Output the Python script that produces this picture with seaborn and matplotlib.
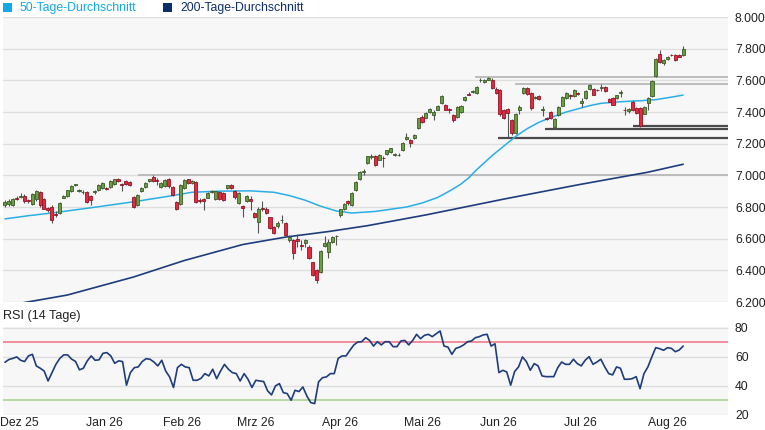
import numpy as np
import matplotlib
matplotlib.use("Agg")
import matplotlib.pyplot as plt
from matplotlib.patches import Rectangle
import seaborn as sns

# ---------------- data ----------------
opens = [6815, 6820, 6812, 6858, 6862, 6872, 6842, 6822, 6848, 6892,
         6850, 6792, 6800, 6758, 6760, 6860, 6870, 6900, 6940, 6902,
         6892, 6895, 6868, 6892, 6905, 6920, 6922, 6925, 6945, 6976,
         6945, 6965, 6960, 6865, 6810, 6900, 6925, 6965, 6992, 6968,
         6925, 6930, 6975, 6925, 6830, 6820, 6920, 6975, 6950, 6960,
         6845, 6850, 6860, 6895, 6850, 6895, 6890, 6920, 6940, 6900,
         6825, 6805, 6835, 6852, 6760, 6705, 6795, 6790, 6735, 6675,
         6680, 6718, 6700, 6590, 6590, 6595, 6560, 6575, 6550, 6450,
         6400, 6390, 6555, 6515, 6580, 6615, 6750, 6785, 6835, 6810,
         6905, 6975, 7020, 7075, 7115, 7125, 7100, 7110, 7135, 7145,
         7130, 7128, 7160, 7232, 7225, 7235, 7300, 7370, 7365, 7400,
         7380, 7415, 7455, 7445, 7418, 7380, 7370, 7400, 7475, 7512,
         7525, 7520, 7600, 7590, 7605, 7602, 7545, 7540, 7410, 7420,
         7350, 7265, 7410, 7520, 7550, 7520, 7490, 7500, 7410, 7365,
         7400, 7305, 7380, 7440, 7490, 7505, 7500, 7518, 7460, 7490,
         7545, 7545, 7540, 7550, 7558, 7482, 7488, 7486, 7520, 7415,
         7405, 7465, 7425, 7425, 7390, 7455, 7500, 7625, 7765, 7712,
         7735, 7762, 7760, 7760, 7760]
highs = [6845, 6850, 6860, 6868, 6890, 6880, 6852, 6888, 6908, 6898,
         6858, 6800, 6810, 6775, 6830, 6878, 6910, 6940, 6945, 6915,
         6905, 6900, 6875, 6905, 6945, 6955, 6928, 6968, 6980, 6982,
         6950, 6970, 6965, 6870, 6880, 6925, 6955, 6978, 7005, 6985,
         6955, 6975, 6985, 6930, 6840, 6945, 6975, 6980, 6972, 6965,
         6860, 6855, 6893, 6905, 6902, 6900, 6895, 6942, 6945, 6905,
         6895, 6812, 6875, 6870, 6770, 6800, 6840, 6800, 6740, 6680,
         6710, 6750, 6705, 6625, 6595, 6630, 6590, 6600, 6560, 6455,
         6410, 6530, 6615, 6600, 6618, 6625, 6790, 6825, 6845, 6895,
         6965, 7025, 7040, 7125, 7135, 7130, 7135, 7120, 7162, 7172,
         7140, 7138, 7210, 7268, 7230, 7258, 7365, 7378, 7398, 7425,
         7415, 7445, 7505, 7450, 7425, 7385, 7435, 7445, 7500, 7525,
         7540, 7565, 7615, 7610, 7620, 7612, 7555, 7545, 7420, 7428,
         7355, 7395, 7445, 7560, 7555, 7525, 7500, 7505, 7440, 7370,
         7405, 7360, 7435, 7500, 7525, 7515, 7545, 7525, 7490, 7540,
         7575, 7550, 7545, 7580, 7565, 7488, 7495, 7510, 7540, 7430,
         7425, 7475, 7430, 7430, 7435, 7495, 7605, 7740, 7790, 7735,
         7755, 7768, 7768, 7765, 7815]
lows = [6800, 6805, 6808, 6845, 6855, 6825, 6828, 6815, 6840, 6800,
        6785, 6770, 6700, 6740, 6755, 6855, 6865, 6895, 6935, 6895,
        6882, 6825, 6810, 6885, 6900, 6915, 6905, 6920, 6940, 6958,
        6900, 6940, 6935, 6795, 6805, 6895, 6920, 6960, 6960, 6940,
        6920, 6925, 6920, 6870, 6780, 6815, 6915, 6945, 6945, 6825,
        6825, 6780, 6855, 6890, 6845, 6845, 6835, 6915, 6915, 6850,
        6820, 6735, 6830, 6780, 6730, 6635, 6775, 6755, 6660, 6630,
        6670, 6700, 6620, 6580, 6470, 6550, 6530, 6545, 6470, 6365,
        6320, 6385, 6550, 6480, 6575, 6560, 6740, 6780, 6810, 6805,
        6900, 6970, 7005, 7070, 7105, 7060, 7095, 7050, 7130, 7140,
        7125, 7125, 7155, 7225, 7180, 7230, 7295, 7330, 7360, 7395,
        7350, 7410, 7450, 7410, 7395, 7340, 7365, 7395, 7470, 7505,
        7520, 7515, 7590, 7585, 7600, 7545, 7515, 7375, 7355, 7240,
        7255, 7258, 7385, 7515, 7505, 7415, 7480, 7475, 7375, 7350,
        7355, 7290, 7375, 7435, 7485, 7480, 7495, 7505, 7430, 7485,
        7540, 7505, 7530, 7530, 7525, 7462, 7442, 7480, 7495, 7380,
        7395, 7405, 7390, 7305, 7385, 7410, 7495, 7620, 7710, 7700,
        7730, 7752, 7725, 7745, 7755]
closes = [6830, 6835, 6850, 6852, 6868, 6838, 6836, 6880, 6900, 6810,
          6790, 6780, 6720, 6750, 6825, 6872, 6905, 6935, 6942, 6908,
          6895, 6830, 6842, 6900, 6940, 6950, 6915, 6962, 6975, 6962,
          6940, 6945, 6942, 6802, 6875, 6920, 6950, 6975, 6965, 6962,
          6950, 6970, 6930, 6878, 6788, 6940, 6970, 6950, 6965, 6830,
          6840, 6838, 6890, 6900, 6898, 6850, 6842, 6938, 6920, 6865,
          6890, 6795, 6870, 6838, 6738, 6790, 6788, 6762, 6668, 6638,
          6702, 6718, 6625, 6610, 6510, 6585, 6555, 6590, 6475, 6370,
          6340, 6525, 6575, 6580, 6610, 6620, 6785, 6820, 6825, 6890,
          6960, 7020, 7025, 7120, 7125, 7065, 7130, 7108, 7160, 7170,
          7132, 7130, 7205, 7242, 7205, 7255, 7360, 7335, 7395, 7420,
          7400, 7440, 7500, 7415, 7412, 7350, 7430, 7435, 7495, 7510,
          7535, 7560, 7600, 7605, 7612, 7552, 7520, 7385, 7362, 7395,
          7265, 7390, 7430, 7550, 7515, 7425, 7495, 7480, 7420, 7355,
          7360, 7355, 7430, 7495, 7520, 7498, 7540, 7512, 7470, 7535,
          7570, 7510, 7536, 7555, 7530, 7466, 7446, 7505, 7525, 7410,
          7420, 7410, 7395, 7310, 7430, 7490, 7595, 7735, 7715, 7728,
          7750, 7758, 7730, 7750, 7800]

# moving averages read at selected trading-day indices
ma50_day = [0, 6, 12, 22, 33, 42, 48, 55, 63, 69, 73, 77, 81, 85, 89, 95,
            103, 107, 111, 114, 117, 119, 121, 123, 125, 127, 129, 131, 134,
            137, 140, 144, 147, 150, 153, 158, 163, 167, 171, 174]
ma50 = [6725, 6745, 6762, 6795, 6833, 6868, 6893, 6900, 6902, 6893, 6872,
        6843, 6805, 6775, 6762, 6772, 6800, 6825, 6860, 6900, 6945, 6985,
        7035, 7080, 7125, 7165, 7205, 7245, 7295, 7335, 7365, 7400, 7420,
        7440, 7455, 7465, 7471, 7478, 7494, 7507]
ma200_day = [0, 16, 33, 46, 61, 72, 83, 93, 108, 128, 147, 165, 174]
ma200 = [6175, 6244, 6358, 6462, 6563, 6610, 6645, 6682, 6750, 6850, 6940,
         7020, 7070]

rsi = [56.3, 58.2, 59, 60, 57.7, 56.8, 60.7, 61.8, 53.8, 52.2,
       50.3, 43.4, 49.2, 54.9, 59, 61.4, 61.4, 58.5, 56.9, 51.1,
       52.2, 57.3, 60.7, 57.7, 58, 62.5, 63, 60.7, 55.6, 57.3,
       56.8, 40.5, 49.2, 52.6, 53.1, 56.8, 58.8, 58.4, 56.5, 53.8,
       57.7, 50.3, 46.2, 38.9, 52.6, 54.9, 53.1, 52.6, 43.9, 43.9,
       45.2, 48.5, 46.9, 51.5, 45, 50.3, 54.9, 51.5, 49.2, 48.5,
       43.4, 48.5, 44.6, 38.9, 43.9, 43.4, 43, 36.6, 33.8, 40,
       41.6, 35.4, 34.7, 30.1, 37, 36.1, 39.3, 33.1, 28.5, 27.8,
       42.8, 45.7, 46.2, 48.5, 48.5, 59, 60.7, 60.7, 64.6, 68.3, 70.3,
       70.5, 73.3, 71.4, 67.5, 70.5, 68.3, 70.5, 70.5, 67.1, 67.1,
       71, 71.4, 68.3, 71.4, 75.6, 72.6, 74.9, 75.6, 74, 76,
       77.9, 67.5, 66.8, 61.8, 65.9, 66.8, 68.3, 70.5, 71, 73.3,
       74, 75.2, 75.6, 67.5, 69.1, 49.2, 50.8, 49.6, 40.5, 49.9,
       53.1, 60, 56.8, 50.8, 55.4, 53.8, 46.9, 46.4, 46.4, 46.4, 52.6,
       56.5, 54.9, 54.9, 58.4, 55.4, 53.8, 57.7, 60.2, 54.9, 56.5,
       58.4, 53.1, 48.5, 47.6, 53.1, 52.2, 44.6, 44.6, 45, 46.4,
       38.1, 48.5, 53.1, 60, 66.4, 65.7, 64.6, 66.4, 65.9, 63.6, 64.8, 67.5]

# horizontal support / resistance levels and the day they start
light_levels = [7620, 7575, 7000]
light_start = [120.6, 130.9, 34.1]
dark_levels = [7238, 7295, 7313]
dark_start = [126.5, 138.6, 161.2]

month_day = [3.7, 25.4, 45.3, 64.2, 86.0, 107.0, 126.7, 147.5, 169.9]
month_labels = ["Dez 25", "Jan 26", "Feb 26", "Mrz 26", "Apr 26", "Mai 26",
                "Jun 26", "Jul 26", "Aug 26"]
price_ticks = [6200, 6400, 6600, 6800, 7000, 7200, 7400, 7600, 7800, 8000]
rsi_ticks = [20, 40, 60, 80]

# ---------------- style ----------------
sns.set_theme(style="white")
plt.rcParams["font.family"] = ["Liberation Sans", "DejaVu Sans"]
FS = 8.8
W, H = 765, 430
fig = plt.figure(figsize=(W / 100, H / 100), dpi=100)

def fbox(x0, y0, x1, y1):
    return [x0 / W, 1 - y1 / H, (x1 - x0) / W, (y1 - y0) / H]

ax = fig.add_axes(fbox(3, 17, 728, 302))
ax2 = fig.add_axes(fbox(3, 326.5, 728, 415.2), sharex=ax)
for a in (ax, ax2):
    a.set_facecolor("#f7f7f7")
    for s in a.spines.values():
        s.set_visible(False)

N = len(closes)
days = np.arange(N)
o = np.array(opens, float); c = np.array(closes, float)
h = np.array(highs, float); l = np.array(lows, float)
up = c >= o
XR = 185.5

# grid
for v in price_ticks:
    ax.axhline(v, color="#dedede", lw=1.0, zorder=0)
ax.hlines(light_levels, light_start, XR, colors="#b8b8b8", lw=1.3, zorder=1)
ax.hlines(dark_levels, dark_start, XR, colors="#4a4a4a", lw=1.6, zorder=1)

# moving averages
sns.lineplot(x=ma200_day, y=ma200, ax=ax, color="#1f3c7c", lw=1.2,
             estimator=None, sort=True, zorder=2, legend=False)
sns.lineplot(x=ma50_day, y=ma50, ax=ax, color="#2aaee6", lw=1.1,
             estimator=None, sort=True, zorder=2, legend=False)

# candles
ax.vlines(days, l, h, color="#555555", lw=0.8, zorder=3)
bottom = np.minimum(o, c)
height = np.maximum(np.abs(c - o), 3.0)
ax.bar(days[up], height[up], bottom=bottom[up], width=0.78, color="#6a9e44",
       edgecolor="#3a5a25", lw=0.6, zorder=4)
ax.bar(days[~up], height[~up], bottom=bottom[~up], width=0.78, color="#e9283f",
       edgecolor="#8e1526", lw=0.6, zorder=4)

ax.set_xlim(-0.5, XR)
ax.set_ylim(6200, 8000)
ax.yaxis.tick_right()
ax.set_yticks(price_ticks)
ax.set_yticklabels([f"{v:,.0f}".replace(",", ".") for v in price_ticks])
ax.tick_params(axis="y", length=0, pad=5, labelsize=FS, labelcolor="#222222")
ax.tick_params(axis="x", length=0, labelbottom=False)
ax.set_xlabel(""); ax.set_ylabel("")

# RSI panel
for v in rsi_ticks:
    ax2.axhline(v, color="#dedede", lw=1.0, zorder=0)
ax2.axhline(70, color="#f27b8a", lw=1.2, zorder=1)
ax2.axhline(30, color="#acd493", lw=1.2, zorder=1)
rsi_x = np.linspace(0, N - 1, len(rsi))
sns.lineplot(x=rsi_x, y=rsi, ax=ax2, color="#1f3c7c", lw=1.2,
             estimator=None, zorder=3, legend=False)
ax2.set_ylim(19.8, 81)
ax2.yaxis.tick_right()
ax2.set_yticks(rsi_ticks)
ax2.tick_params(axis="y", length=0, pad=5, labelsize=FS, labelcolor="#222222")
ax2.set_xticks(month_day)
ax2.set_xticklabels(month_labels)
ax2.tick_params(axis="x", length=0, pad=1, labelsize=FS, labelcolor="#222222")
ax2.set_xlabel(""); ax2.set_ylabel("")

fig.text(3 / W, 1 - 316 / H, "RSI (14 Tage)", fontsize=FS + 0.3,
         color="#222222", va="center", ha="left")

# legend
leg = [("50-Tage-Durchschnitt", "#12a9e6", 3), ("200-Tage-Durchschnitt", "#0c2d6b", 163)]
for txt, col, x0 in leg:
    fig.add_artist(Rectangle((x0 / W, 1 - 12 / H), 9 / W, 9 / H,
                             transform=fig.transFigure, color=col, lw=0))
    fig.text((x0 + 17) / W, 1 - 7.5 / H, txt, fontsize=FS, color=col,
             va="center", ha="left")

fig.savefig("out.png", dpi=100)
